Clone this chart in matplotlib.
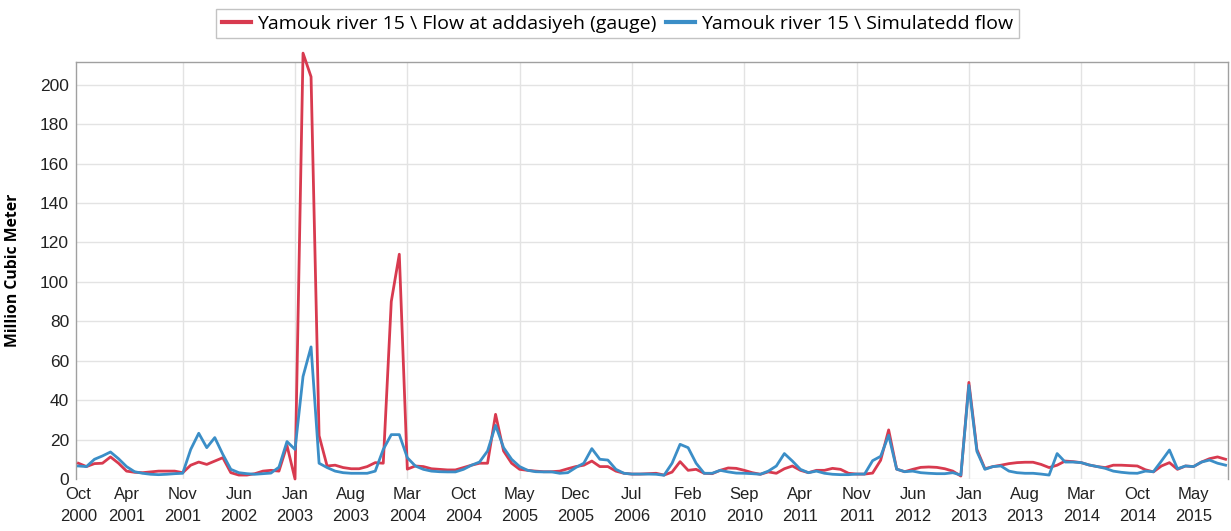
import matplotlib
matplotlib.use("Agg")
import matplotlib.pyplot as plt
import numpy as np
import pandas as pd

# Monthly categories (data gap between Jul 2006 and Aug 2009)
months = list(pd.period_range("2000-10", "2006-07", freq="M")) + \
         list(pd.period_range("2009-08", "2015-09", freq="M"))
month_labels = [f"{p.strftime('%b')}\n{p.year}" for p in months]

gauge = [8, 6.3, 7.8, 8, 11.2, 8, 4, 3.4, 3.2, 3.6,
         4, 4, 4, 3.2, 7, 8.6, 7.4, 9.1, 10.8, 3.2,
         2, 2, 2.7, 4, 4.4, 4, 17, 0, 216, 204,
         22, 6.6, 7, 5.8, 5.2, 5.2, 6.3, 8.3, 8, 90,
         114, 5, 6.6, 6.3, 5.2, 4.9, 4.6, 4.6, 5.8, 7,
         8, 8, 32.8, 14.2, 8, 4.9, 4.4, 4, 3.7, 3.7,
         4, 5.2, 6.3, 7, 9.1, 6.3, 6.3, 4, 2.9, 2.5,
         2.5, 2.7, 2.9, 2, 3.5, 8.8, 4.4, 4.9, 2.9, 2.7,
         4.4, 5.6, 5.4, 4.4, 3.2, 2.4, 3.6, 2.9, 5.2, 6.6,
         4.4, 3.2, 4.4, 4.4, 5.4, 4.9, 2.9, 2.5, 2.5, 3,
         9.5, 24.9, 5, 3.7, 4.9, 5.9, 6.1, 5.9, 5.2, 4,
         1.5, 49, 15, 5.2, 6.3, 7, 7.8, 8.3, 8.5, 8.5,
         7.4, 5.8, 7, 9.1, 8.8, 8.3, 7.1, 6.3, 5.8, 7,
         7, 6.8, 6.6, 4.7, 3.6, 6.6, 8.3, 4.9, 6.6, 6.3,
         8.6, 10.3, 11.2, 10]

simulated = [6.6, 6.3, 10, 11.7, 13.7, 10.3, 6.3, 3.7, 2.9, 2.4,
             2.2, 2.4, 2.7, 2.9, 15, 23.2, 15.9, 21, 12.5, 4.9,
             3.2, 2.7, 2.4, 2.7, 3, 6, 19, 15, 52, 67,
             8, 5.8, 4, 3.2, 2.9, 2.9, 2.9, 4, 15, 22.5,
             22.5, 10.8, 6.6, 4.9, 4, 3.7, 3.6, 3.6, 4.9, 7,
             8.6, 14.2, 27.2, 15.9, 10, 6.3, 4.4, 3.7, 3.6, 3.6,
             2.9, 3.2, 5.8, 8, 15.4, 10, 9.6, 4.9, 2.9, 2.5,
             2.5, 2.5, 2.4, 1.9, 8, 17.6, 15.9, 8, 2.9, 2.9,
             4.4, 3.6, 3, 2.9, 2.7, 2.4, 4, 6.6, 12.9, 9.1,
             4.9, 3.2, 4, 2.9, 2.4, 2.2, 2.2, 2.5, 2.5, 9.3,
             11.5, 22.2, 5, 3.7, 4, 3.2, 2.9, 2.7, 2.7, 3.2,
             2, 47.5, 14, 4.9, 6.3, 6.6, 4, 3.2, 2.9, 2.9,
             2.5, 2, 12.9, 8.6, 8.6, 8.3, 7.1, 6.3, 5.4, 4,
             3.4, 3, 2.9, 4, 3.7, 9.1, 14.7, 5.2, 6.6, 6.3,
             8.6, 9.6, 8, 7]

series_names = ["Yamouk river 15 \\ Flow at addasiyeh (gauge)",
                "Yamouk river 15 \\ Simulatedd flow"]
y_ticks = list(range(0, 201, 20))

x = np.arange(len(months))
tick_idx = [0] + list(range(6, len(months), 7))
grid_idx = tick_idx[2::2]

fig = plt.figure(figsize=(12.31, 5.31), dpi=100)
ax = fig.add_axes([76 / 1231, 1 - 479 / 531, (1228 - 76) / 1231, (479 - 62) / 531])

red = "#d83a4f"
blue = "#3b8ec7"
l1, = ax.plot(x, gauge, color=red, lw=2.0, solid_joinstyle="round", clip_on=False, zorder=3)
l2, = ax.plot(x, simulated, color=blue, lw=2.0, solid_joinstyle="round", clip_on=False, zorder=4)

ax.set_xlim(-0.3, 143.3)
ax.set_ylim(0, 211.5)
ax.set_yticks(y_ticks)
ax.set_xticks(tick_idx)
ax.set_xticklabels([month_labels[i] for i in tick_idx], fontsize=12,
                   family=["Liberation Sans", "DejaVu Sans"], color="#222222", linespacing=1.55)
for lab in ax.get_yticklabels():
    lab.set_fontsize(12.5)
    lab.set_family(["Liberation Sans", "DejaVu Sans"])
    lab.set_color("#222222")
ax.tick_params(axis="y", length=0, pad=5)
ax.tick_params(axis="x", length=0, pad=6)

ax.grid(axis="y", color="#e3e3e3", lw=1)
for gi in grid_idx:
    ax.axvline(gi, color="#e3e3e3", lw=1, zorder=0)
ax.set_axisbelow(True)

for s in ["left", "top", "right"]:
    ax.spines[s].set_color("#a0a0a0")
    ax.spines[s].set_linewidth(1)
ax.spines["bottom"].set_visible(False)

ax.set_ylabel("Million Cubic Meter", fontsize=11.3, fontweight="bold",
              family=["Open Sans", "DejaVu Sans"])
ax.yaxis.set_label_coords(-0.0475, 0.5)

leg = fig.legend([l1, l2], series_names, loc="center", bbox_to_anchor=(617.5 / 1231, 1 - 23.5 / 531),
                 ncol=2, frameon=True, fancybox=False, handlelength=1.5, handletextpad=0.3,
                 columnspacing=0.5, borderpad=0.3,
                 prop={"family": ["Open Sans", "DejaVu Sans"], "size": 14})
leg.get_frame().set_edgecolor("#b5b5b5")
leg.get_frame().set_linewidth(1)
for h in leg.get_lines():
    h.set_linewidth(3)

fig.savefig("out.png", dpi=100)
